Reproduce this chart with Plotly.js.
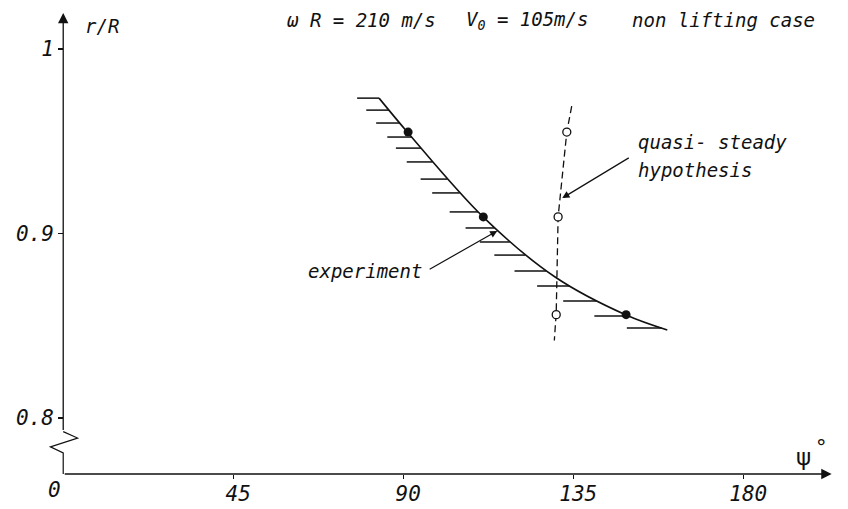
<!DOCTYPE html>
<html>
<head>
<meta charset="utf-8">
<script src="https://cdn.plot.ly/plotly-3.0.1.min.js"></script>
<style>
  html, body { margin: 0; padding: 0; background: #fff; }
  #chart { width: 848px; height: 509px; }
</style>
</head>
<body>
<div id="chart"></div>
<script>
// Blade tip vortex position r/R versus azimuth psi (deg)
// omega R = 210 m/s, V0 = 105 m/s, non lifting case

// Experimental curve (solid line, hatched on its left side)
const curvePsi = [83.6, 91.3, 111.2, 130.2, 149.0, 159.9];
const curveR   = [0.9734, 0.9545, 0.9089, 0.8764, 0.8558, 0.8477];

// Measured points (filled circles)
const expPsi = [91.3, 111.2, 149.0];
const expR   = [0.955, 0.909, 0.856];

// Quasi-steady hypothesis points (open circles) and its dashed line
const qsPsi = [133.3, 131.0, 130.5];
const qsR   = [0.955, 0.909, 0.856];
const qsLinePsi = [134.6, 133.3, 131.0, 130.5, 130.0];
const qsLineR   = [0.969, 0.955, 0.909, 0.857, 0.842];

// Levels of the hatch strokes along the experimental curve
const hatchR = [0.9734, 0.9669, 0.9599, 0.9523, 0.9463, 0.9388, 0.9295, 0.9220,
                0.9117, 0.9030, 0.8954, 0.8883, 0.8797, 0.8715, 0.8634, 0.8553, 0.8488];

// Axis ticks
const xTicks = [45, 90, 135, 180];
const xTickText = ['45', '90', '135', '180'];
const yTicks = [0.8, 0.9, 1.0];
const yTickText = ['0.8', '0.9', '1'];

const INK = '#111';
const FONT = { family: 'DejaVu Sans Mono', size: 19, color: INK, style: 'italic' };

// psi on the experimental curve at a given r (monotone cubic through the read points)
function psiOnCurve(r) {
  const n = curveR.length;
  if (r >= curveR[0]) return curvePsi[0];
  if (r <= curveR[n - 1]) return curvePsi[n - 1];
  // slopes dpsi/dr at the nodes
  const d = [];
  for (let i = 0; i < n - 1; i++) d.push((curvePsi[i + 1] - curvePsi[i]) / (curveR[i + 1] - curveR[i]));
  const m = [d[0]];
  for (let i = 1; i < n - 1; i++) m.push((d[i - 1] + d[i]) / 2);
  m.push(d[n - 2]);
  for (let i = 0; i < n - 1; i++) {
    const a = curveR[i], b = curveR[i + 1];
    if (r <= a && r >= b) {
      const h = b - a, t = (r - a) / h;
      const h00 = 2 * t * t * t - 3 * t * t + 1, h10 = t * t * t - 2 * t * t + t;
      const h01 = -2 * t * t * t + 3 * t * t, h11 = t * t * t - t * t;
      return h00 * curvePsi[i] + h10 * h * m[i] + h01 * curvePsi[i + 1] + h11 * h * m[i + 1];
    }
  }
  return curvePsi[n - 1];
}

// hatch strokes: short horizontal ticks ending on the curve, a little longer lower down
const hx = [], hy = [];
hatchR.forEach((r, i) => {
  const x1 = psiOnCurve(r);
  const len = 5.8 + 3.4 * i / (hatchR.length - 1);
  hx.push(x1 - len, x1, null);
  hy.push(r, r, null);
});

const traces = [
  { x: hx, y: hy, mode: 'lines', line: { color: INK, width: 1.5 }, hoverinfo: 'skip' },
  { x: curvePsi, y: curveR, mode: 'lines', line: { color: INK, width: 1.6, shape: 'spline', smoothing: 1 } },
  { x: qsLinePsi, y: qsLineR, mode: 'lines', line: { color: INK, width: 1.3, dash: '7px,4px' } },
  { x: expPsi, y: expR, mode: 'markers', marker: { color: INK, size: 9, line: { width: 0 } } },
  { x: qsPsi, y: qsR, mode: 'markers', marker: { color: '#fff', size: 8, line: { color: INK, width: 1.3 } } }
];

const xMin = -8, xMax = 203.5;
const yMin = 0.7696, yMax = 1.0201;

function arrow(x, y, ax, ay, extra) {
  return Object.assign({
    x: x, y: y, ax: ax, ay: ay, xref: 'x', yref: 'y', axref: 'x', ayref: 'y',
    text: ' ', font: { size: 1 }, showarrow: true,
    arrowhead: 2, arrowsize: 1.2, arrowwidth: 1.2, arrowcolor: INK, standoff: 0, startstandoff: 0
  }, extra || {});
}

function label(text, x, y, xanchor, extra) {
  return Object.assign({
    text: text, x: x, y: y, xref: 'x', yref: 'y', showarrow: false,
    xanchor: xanchor, yanchor: 'middle', font: FONT
  }, extra || {});
}

const annotations = [
  // axes with arrowheads
  arrow(xMax - 0.1, yMin, 0, yMin, { arrowsize: 1.6, arrowwidth: 1.3 }),
  arrow(0, yMax - 0.0005, 0, 0.7924, { arrowsize: 1.6, arrowwidth: 1.3 }),
  // leaders to the curves
  arrow(114.9, 0.9014, 96.6, 0.8802),
  arrow(132.1, 0.9192, 150.1, 0.9415),
  // texts
  label('experiment', 95.6, 0.8798, 'right'),
  label('quasi- steady', 151.6, 0.9495, 'left'),
  label('hypothesis', 151.6, 0.9343, 'left'),
  label('ω R = 210 m/s', 58.6, 1.0157, 'left'),
  label('V<sub>0</sub> = 105m/s', 106.0, 1.0157, 'left'),
  label('non lifting case', 150.0, 1.0157, 'left'),
  label('r/R', 5.2, 1.0125, 'left'),
  label('ψ', 195.9, 0.7790, 'center', { font: { family: 'DejaVu Sans', size: 23, color: INK } }),
  label('°', 200.6, 0.7835, 'center', { font: { family: 'DejaVu Sans', size: 21, color: INK } }),
  // origin label sits below the plotted range, so place it in paper units
  label('0', -2.2, (0.7608 - yMin) / (yMax - yMin), 'center',
        { yref: 'paper', font: Object.assign({}, FONT, { size: 21 }) })
];

// zig-zag axis break between 0.8 and the origin
const shapes = [
  { type: 'path', xref: 'x', yref: 'y',
    path: 'M 0 0.7926 L 3.8 0.7891 L -3.4 0.7843 L 0 0.7810 L 0 ' + yMin,
    line: { color: INK, width: 1.2 } }
];

const layout = {
  width: 848, height: 509,
  margin: { l: 33, r: 16, t: 12, b: 35, pad: 0 },
  paper_bgcolor: '#fff', plot_bgcolor: '#fff',
  showlegend: false,
  xaxis: {
    range: [xMin, xMax], showgrid: false, zeroline: false, showline: false,
    tickvals: xTicks, ticktext: xTickText, ticks: 'outside', ticklen: 4, tickwidth: 1.2, tickcolor: INK,
    ticklabelshift: 5, ticklabelstandoff: -3,
    tickfont: { family: 'DejaVu Sans Mono', size: 21, color: INK, style: 'italic' }, fixedrange: true
  },
  yaxis: {
    range: [yMin, yMax], showgrid: false, zeroline: false, showline: false,
    anchor: 'free', position: (0 - xMin) / (xMax - xMin),
    tickvals: yTicks, ticktext: yTickText, ticks: 'outside', ticklen: 5, tickwidth: 1.2, tickcolor: INK,
    tickfont: { family: 'DejaVu Sans Mono', size: 21, color: INK, style: 'italic' }, fixedrange: true
  },
  annotations: annotations,
  shapes: shapes
};

Plotly.newPlot('chart', traces, layout, { staticPlot: true });
</script>
</body>
</html>
